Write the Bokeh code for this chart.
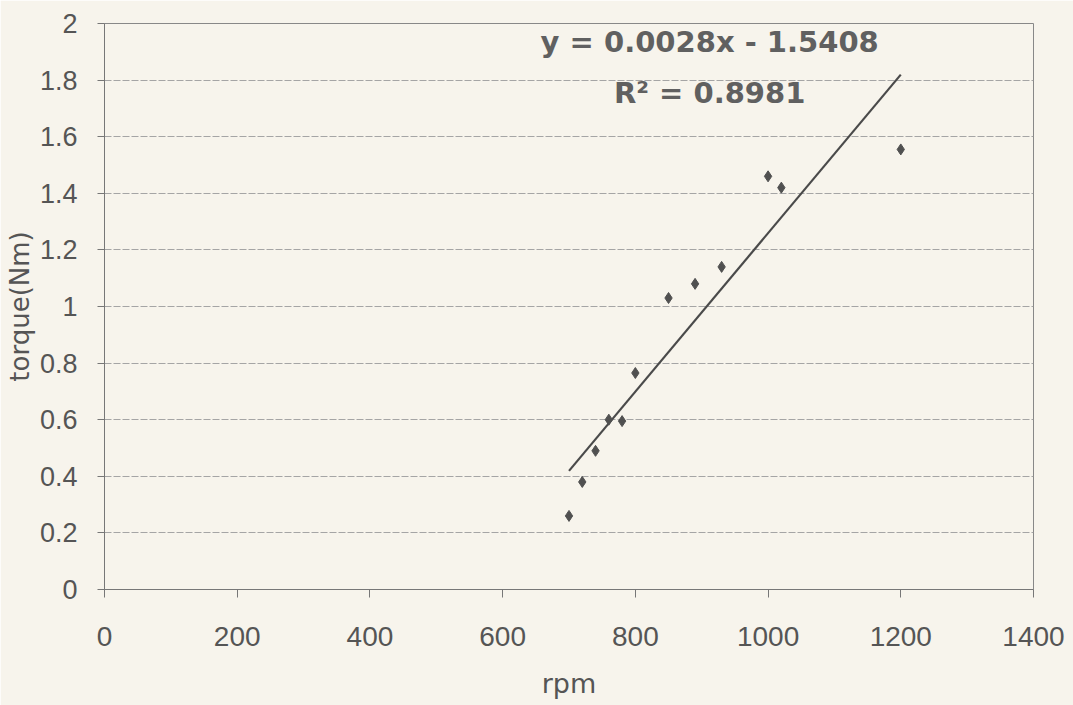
from bokeh.plotting import figure
from bokeh.models import Range1d, FixedTicker, Label
from bokeh.embed import file_html
from bokeh.resources import INLINE

# Data
rpm = [700, 720, 740, 760, 780, 800, 850, 890, 930, 1000, 1020, 1200]
torque = [0.26, 0.38, 0.49, 0.60, 0.595, 0.765, 1.03, 1.08, 1.14, 1.46, 1.42, 1.555]
slope = 0.0028
intercept = -1.5408
r_squared = 0.8981
trend_x = [700, 1200]
trend_y = [slope * v + intercept for v in trend_x]
x_ticks = [0, 200, 400, 600, 800, 1000, 1200, 1400]
y_ticks = [0, 0.2, 0.4, 0.6, 0.8, 1, 1.2, 1.4, 1.6, 1.8, 2]

BG = "#f7f4ec"
TXT = "#555555"

p = figure(width=1073, height=705, output_backend="svg", toolbar_location=None,
           x_range=Range1d(0, 1400), y_range=Range1d(0, 2),
           min_border_left=104, min_border_right=40, min_border_top=23, min_border_bottom=116)
p.background_fill_color = BG
p.border_fill_color = BG
p.outline_line_color = "#888888"
p.outline_line_width = 1

# grid
p.xgrid.visible = False
p.ygrid.ticker = FixedTicker(ticks=y_ticks)
p.ygrid.grid_line_color = "#a5a5a5"
p.ygrid.grid_line_width = 1
p.ygrid.grid_line_dash = "7 2"

# x axis
xa = p.xaxis[0]
xa.ticker = FixedTicker(ticks=x_ticks)
xa.axis_line_color = "#777777"
xa.major_tick_line_color = "#777777"
xa.major_tick_in = 0
xa.major_tick_out = 8
xa.minor_tick_line_color = None
xa.major_label_text_font = "Liberation Sans"
xa.major_label_text_font_size = "28px"
xa.major_label_text_color = TXT
xa.major_label_standoff = 29
xa.axis_label = "rpm"
xa.axis_label_text_font = "DejaVu Sans"
xa.axis_label_text_font_style = "normal"
xa.axis_label_text_font_size = "27px"
xa.axis_label_text_color = TXT
xa.axis_label_standoff = 19

# y axis
ya = p.yaxis[0]
ya.ticker = FixedTicker(ticks=y_ticks)
ya.formatter.use_scientific = False
ya.axis_line_color = "#777777"
ya.major_tick_line_color = "#777777"
ya.major_tick_in = 0
ya.major_tick_out = 7
ya.minor_tick_line_color = None
ya.major_label_text_font = "Liberation Sans"
ya.major_label_text_font_size = "27px"
ya.major_label_text_color = TXT
ya.major_label_standoff = 20
ya.axis_label = "torque(Nm)"
ya.axis_label_text_font = "DejaVu Sans"
ya.axis_label_text_font_style = "normal"
ya.axis_label_text_font_size = "26px"
ya.axis_label_text_color = TXT
ya.axis_label_standoff = 2

# data
p.line(trend_x, trend_y, line_color="#4a4a4a", line_width=2.2)
p.scatter(rpm, torque, marker="diamond", size=11, fill_color="#505050", line_color="#505050")

eq = Label(x=912, y=1.936, text=f"y = {slope}x - {abs(intercept)}", text_align="center",
           text_baseline="middle", text_font="DejaVu Sans", text_font_style="bold",
           text_font_size="29px", text_color="#606060")
r2 = Label(x=912, y=1.753, text=f"R\u00b2 = {r_squared}", text_align="center",
           text_baseline="middle", text_font="DejaVu Sans", text_font_style="bold",
           text_font_size="29px", text_color="#606060")
p.add_layout(eq)
p.add_layout(r2)

open("out.html", "w").write(file_html(p, INLINE))
